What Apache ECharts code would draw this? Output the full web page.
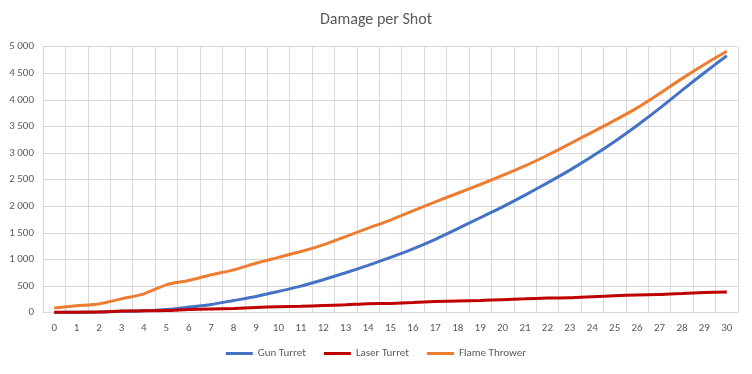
<!DOCTYPE html>
<html>
<head>
<meta charset="utf-8">
<script src="https://cdn.jsdelivr.net/npm/echarts@6/dist/echarts.min.js"></script>
<style>html,body{margin:0;padding:0;background:#fff}#c{width:752px;height:374px}</style>
</head>
<body>
<div id="c"></div>
<script>
const categories = ['0','1','2','3','4','5','6','7','8','9','10','11','12','13','14','15','16','17','18','19','20','21','22','23','24','25','26','27','28','29','30'];
const gunTurret = [5,8,12,25,35,60,105,155,230,305,400,500,620,750,890,1040,1200,1380,1580,1785,1990,2210,2440,2680,2940,3220,3520,3840,4180,4510,4830];
const laserTurret = [10,10,12,30,35,40,60,70,80,100,110,120,135,150,170,175,190,210,220,230,245,260,275,280,300,320,335,340,360,380,390];
const flameThrower = [90,130,165,260,355,524,605,712,805,930,1040,1150,1275,1430,1590,1742,1914,2085,2245,2410,2580,2760,2960,3175,3395,3615,3850,4120,4400,4665,4913];
const yTicks = {min:0, max:5000, interval:500};

const chart = echarts.init(document.getElementById('c'));
const font = 'Calibri, Carlito, "Open Sans", sans-serif';
function fmt(v){ return String(v).replace(/\B(?=(\d{3})+(?!\d))/g,' '); }
chart.setOption({
  animation:false,
  title:{text:'Damage per Shot', left:'center', top:7, textStyle:{fontFamily:font, fontSize:16, fontWeight:'normal', color:'#595959'}},
  grid:{left:43, right:14, top:46.7, bottom:61.3, containLabel:false},
  legend:{bottom:10, left:'center', icon:'rect', itemWidth:27, itemHeight:3, itemGap:18,
    textStyle:{fontFamily:font, fontSize:11, color:'#595959'},
    data:['Gun Turret','Laser Turret','Flame Thrower']},
  xAxis:{type:'category', data:categories, boundaryGap:true,
    axisLine:{lineStyle:{color:'#d9d9d9'}}, axisTick:{show:false},
    splitLine:{show:true, interval:0, lineStyle:{color:'#d9d9d9'}},
    axisLabel:{interval:0, color:'#595959', fontFamily:font, fontSize:11, margin:10}},
  yAxis:{type:'value', min:yTicks.min, max:yTicks.max, interval:yTicks.interval,
    axisLine:{show:false}, axisTick:{show:false},
    splitLine:{lineStyle:{color:'#d9d9d9'}},
    axisLabel:{color:'#595959', fontFamily:font, fontSize:11, margin:9, formatter:fmt}},
  series:[
    {name:'Gun Turret', type:'line', data:gunTurret, symbol:'none', smooth:0.25, lineStyle:{width:3, color:'#4472C4'}, itemStyle:{color:'#4472C4'}, z:2},
    {name:'Laser Turret', type:'line', data:laserTurret, symbol:'none', smooth:0.25, lineStyle:{width:3, color:'#C00000'}, itemStyle:{color:'#C00000'}, z:3},
    {name:'Flame Thrower', type:'line', data:flameThrower, symbol:'none', smooth:0.25, lineStyle:{width:3, color:'#ED7D31'}, itemStyle:{color:'#ED7D31'}, z:4}
  ]
});
</script>
</body>
</html>
